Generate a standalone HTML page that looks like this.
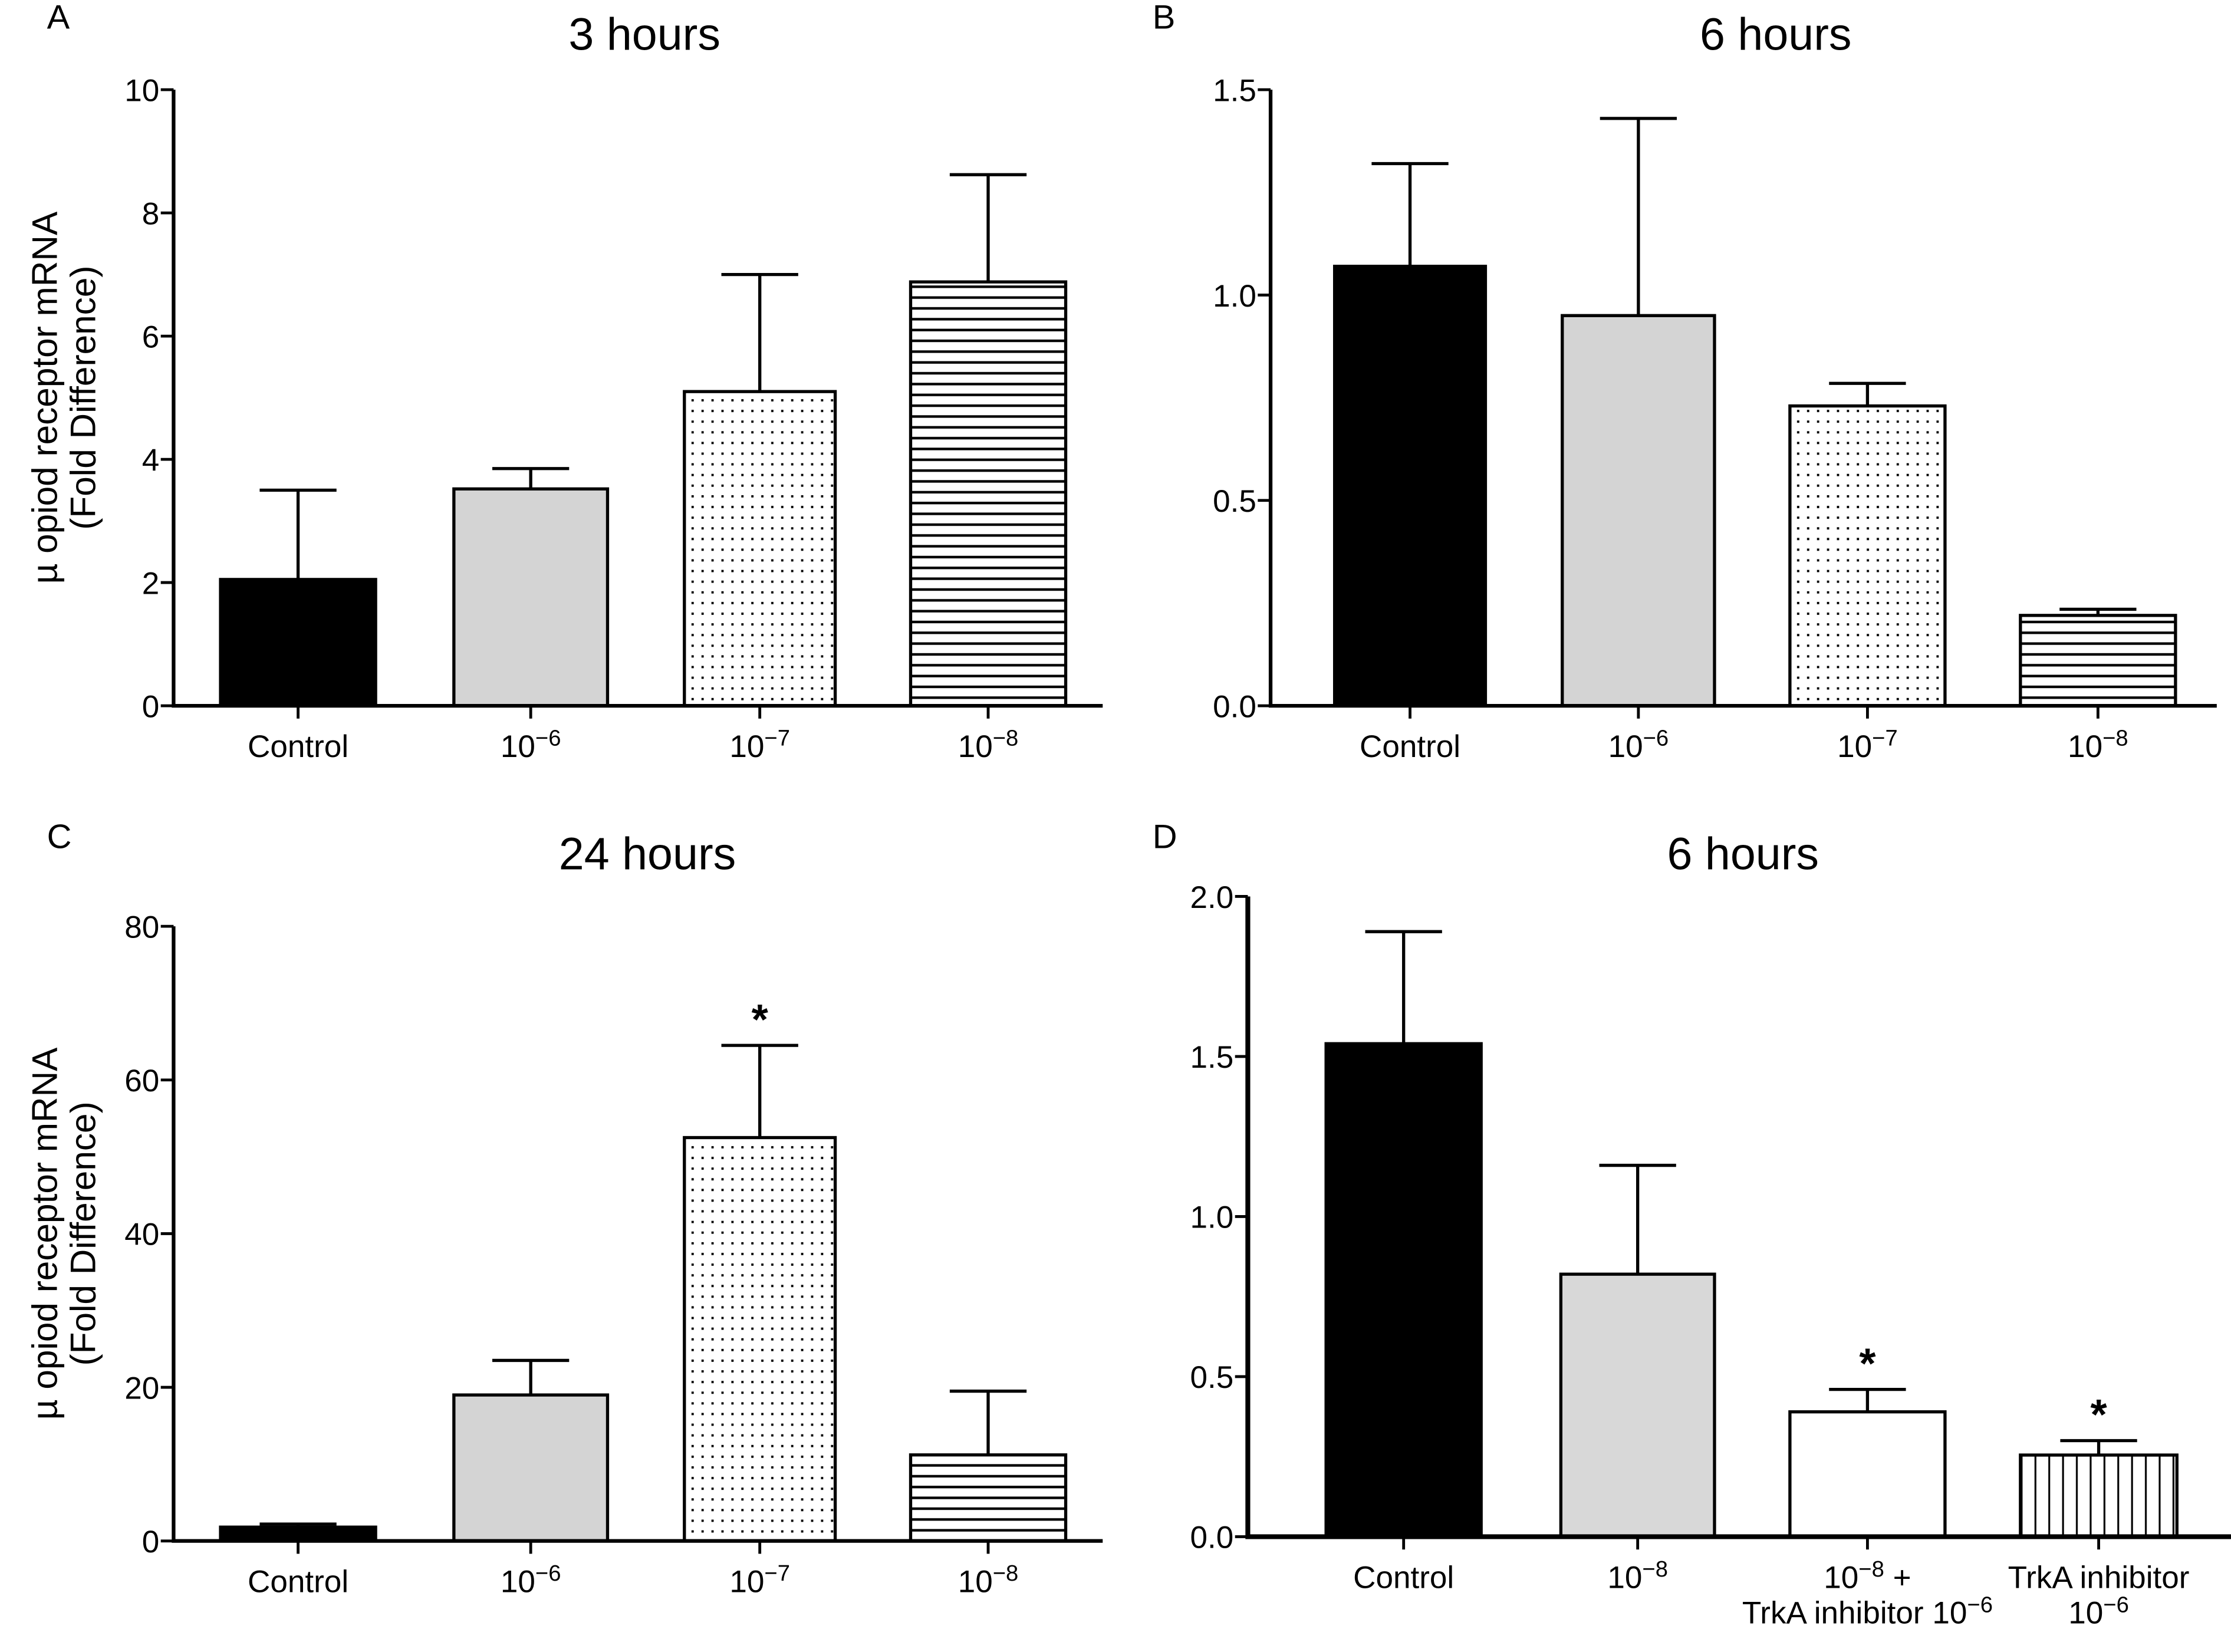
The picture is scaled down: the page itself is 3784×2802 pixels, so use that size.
<!DOCTYPE html>
<html><head><meta charset="utf-8"><style>
html,body{margin:0;padding:0;background:#fff;}
svg{display:block;font-family:"Liberation Sans",sans-serif;}
</style></head><body>
<svg id="fig" width="3784" height="2802" viewBox="0 0 1568 1161" xmlns="http://www.w3.org/2000/svg">
<defs>
<pattern id="dots" width="7" height="7.5" patternUnits="userSpaceOnUse"><rect x="3" y="3" width="1.6" height="1.6" fill="#000"/></pattern>
<pattern id="hlines" width="10" height="7.6" patternUnits="userSpaceOnUse"><rect x="0" y="3" width="10" height="1.8" fill="#000"/></pattern>
<pattern id="vlines" width="9.7" height="10" patternUnits="userSpaceOnUse"><rect x="4" y="0" width="1.3" height="10" fill="#000"/></pattern>
</defs>
</svg>
<script>
const catsA = ["Control","10|−6","10|−7","10|−8"];
const valsA = [2.05, 3.52, 5.1, 6.88];
const errA = [3.5, 3.85, 7.0, 8.62];
const ticksA = [0,2,4,6,8,10];
const tickLabelsA = ["0","2","4","6","8","10"];

const catsB = ["Control","10|−6","10|−7","10|−8"];
const valsB = [1.07, 0.95, 0.73, 0.22];
const errB = [1.32, 1.43, 0.785, 0.235];
const ticksB = [0,0.5,1.0,1.5];
const tickLabelsB = ["0.0","0.5","1.0","1.5"];

const catsC = ["Control","10|−6","10|−7","10|−8"];
const valsC = [1.8, 19, 52.5, 11.2];
const errC = [2.2, 23.5, 64.5, 19.5];
const starsC = [false,false,true,false];
const ticksC = [0,20,40,60,80];
const tickLabelsC = ["0","20","40","60","80"];

const catsD = ["Control","10|−8","10|−8| +\nTrkA inhibitor 10|−6","TrkA inhibitor\n10|−6"];
const valsD = [1.54, 0.82, 0.39, 0.255];
const errD = [1.89, 1.16, 0.46, 0.30];
const starsD = [false,false,true,true];
const ticksD = [0,0.5,1.0,1.5,2.0];
const tickLabelsD = ["0.0","0.5","1.0","1.5","2.0"];

const NS="http://www.w3.org/2000/svg";
const svg=document.getElementById('fig');
function mk(tag,attrs,parent){const e=document.createElementNS(NS,tag);for(const k in attrs)e.setAttribute(k,attrs[k]);(parent||svg).appendChild(e);return e;}

function addLabelText(parent,x,y,str,size){
  const t=mk('text',{x:x,y:y,'text-anchor':'middle','font-size':size},parent);
  const parts=str.split('|');
  t.appendChild(document.createTextNode(parts[0]));
  if(parts.length>1){const s=mk('tspan',{dy:-8,'font-size':size*0.72},t);s.textContent=parts[1];}
  if(parts.length>2){const r=mk('tspan',{dy:8},t);r.textContent=parts[2];}
  return t;
}

function panel(o){
  const g=mk('g',{});
  
  
  const y=v=>o.y0-(v-o.tmin)/(o.tmax-o.tmin)*(o.y0-o.ytop);
  const L=mk('text',{x:o.lx,y:o.ty-2,'font-size':24},g);L.textContent=o.letter;
  
  const T=mk('text',{x:o.tcx,y:o.ty+13,'font-size':32,'text-anchor':'middle'},g);T.textContent=o.title;
  
  o.vals.forEach((v,i)=>{
    const x0=o.bx[i][0],x1=o.bx[i][1];
    const fill=o.fills[i];
    const r=mk('rect',{x:x0,y:y(v),width:x1-x0,height:o.y0-y(v),fill:fill,stroke:'#000','stroke-width':2.2},g);
    
    const cx=(x0+x1)/2,ey=y(o.errs[i]);
    const e=mk('path',{d:`M${cx},${y(v)}V${ey}M${cx-27},${ey}H${cx+27}`,stroke:'#000','stroke-width':2.2,fill:'none'},g);
    
    if(o.stars&&o.stars[i]){const s=mk('text',{x:cx,y:ey-8,'font-size':30,'text-anchor':'middle','font-weight':'bold'},g);s.textContent='*';
      }
    mk('line',{x1:cx,x2:cx,y1:o.y0,y2:o.y0+9,stroke:'#000','stroke-width':2},g);
    const lines=o.cats[i].split('\n');
    lines.forEach((ln,j)=>{
      const t=addLabelText(g,cx,o.y0+36+j*25,ln,22);
      
    });
  });
  const ax=mk('path',{d:`M${o.ax},${o.ytop}V${o.y0}H${o.xend}`,stroke:'#000','stroke-width':o.aw||2.6,fill:'none'},g);
  
  o.ticks.forEach((tv,i)=>{
    mk('line',{x1:o.ax-9,x2:o.ax,y1:y(tv),y2:y(tv),stroke:'#000','stroke-width':2},g);
    const t=mk('text',{x:o.ax-10,y:y(tv)+8,'font-size':22,'text-anchor':'end'},g);t.textContent=o.tickLabels[i];
    
  });
  if(o.ylab){
    const yc=(o.ytop+o.y0)/2;
    const t=mk('text',{transform:`translate(40,${yc}) rotate(-90)`,'text-anchor':'middle','font-size':25},g);
    t.textContent='µ opiod receptor mRNA';
    
    const t2=mk('text',{transform:`translate(67,${yc}) rotate(-90)`,'text-anchor':'middle','font-size':25},g);
    t2.textContent='(Fold Difference)';
    
  }
}
const bxL=[[155,264],[319,427],[481,587],[640,749]];
const bxR=[[938,1044],[1098,1205],[1258,1367],[1420,1529]];
panel({name:'panel-a',letter:'A',lx:33,title:'3 hours',tcx:453,ty:22,ax:122,ytop:63,y0:496,xend:775,tmin:0,tmax:10,
  cats:catsA,vals:valsA,errs:errA,ticks:ticksA,tickLabels:tickLabelsA,bx:bxL,fills:['#000','#d4d4d4','url(#dots)','url(#hlines)'],ylab:true});
panel({name:'panel-b',letter:'B',lx:810,title:'6 hours',tcx:1248,ty:22,ax:893,ytop:63,y0:496,xend:1558,tmin:0,tmax:1.5,
  cats:catsB,vals:valsB,errs:errB,ticks:ticksB,tickLabels:tickLabelsB,bx:bxR,fills:['#000','#d4d4d4','url(#dots)','url(#hlines)']});
panel({name:'panel-c',letter:'C',lx:33,title:'24 hours',tcx:455,ty:598,ax:122,ytop:651,y0:1083,xend:775,tmin:0,tmax:80,
  cats:catsC,vals:valsC,errs:errC,stars:starsC,ticks:ticksC,tickLabels:tickLabelsC,bx:bxL,fills:['#000','#d4d4d4','url(#dots)','url(#hlines)'],ylab:true});
panel({name:'panel-d',letter:'D',lx:810,title:'6 hours',tcx:1225,ty:598,ax:877,ytop:630,y0:1080,xend:1568,tmin:0,tmax:2.0,aw:3.4,
  cats:catsD,vals:valsD,errs:errD,stars:starsD,ticks:ticksD,tickLabels:tickLabelsD,bx:[[932,1041],[1097,1205],[1258,1367],[1420,1530]],fills:['#000','#d8d8d8','#fff','url(#vlines)']});
</script>
</body></html>
